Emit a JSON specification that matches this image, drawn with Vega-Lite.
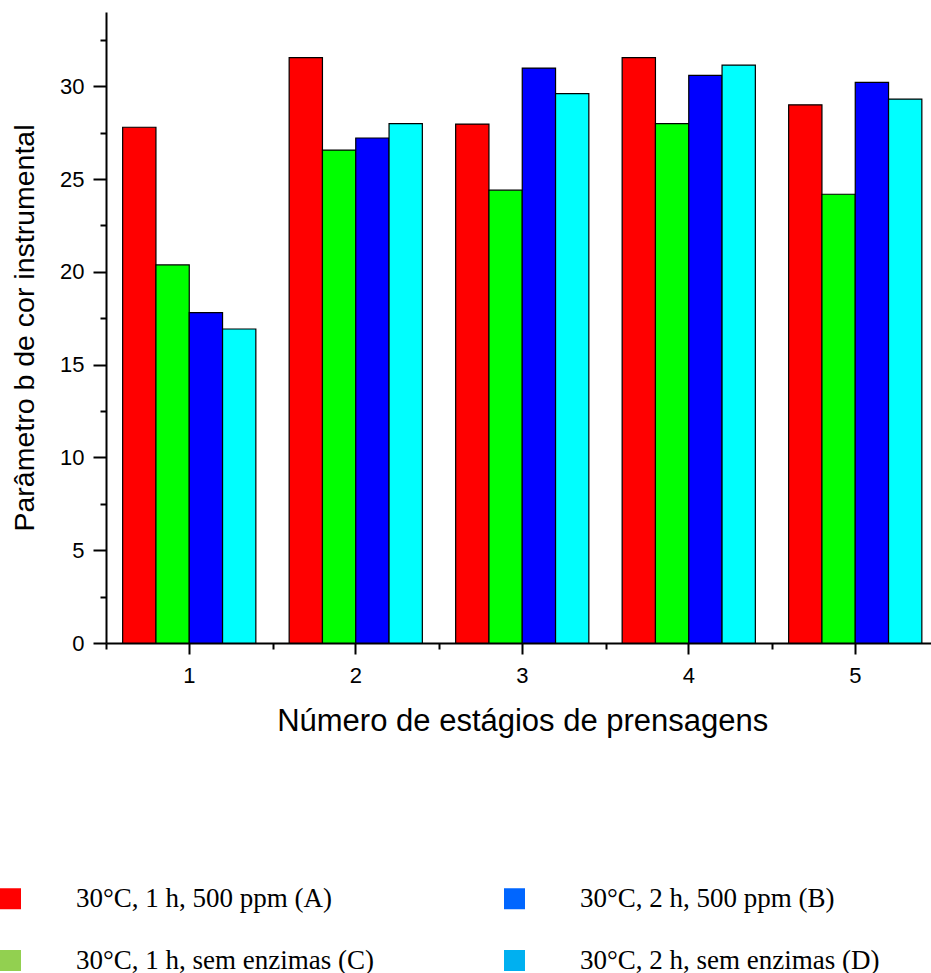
{
  "$schema": "https://vega.github.io/schema/vega-lite/v6.json",
  "autosize": {"type": "none"},
  "padding": {"left": 106, "top": 12, "right": 0, "bottom": 330},
  "width": 825,
  "height": 631,
  "background": "white",
  "config": {
    "view": {"stroke": null},
    "axis": {
      "grid": false,
      "domainColor": "black",
      "tickColor": "black",
      "labelColor": "black",
      "titleColor": "black",
      "labelFont": "Liberation Sans",
      "titleFont": "Liberation Sans",
      "titleFontWeight": "normal",
      "domainWidth": 2,
      "tickWidth": 2
    }
  },
  "data": {
    "values": [
      {"estagio": "1", "trat": "30°C, 1 h, 500 ppm (A)", "b": 27.79},
      {"estagio": "1", "trat": "30°C, 1 h, sem enzimas (C)", "b": 20.37},
      {"estagio": "1", "trat": "30°C, 2 h, 500 ppm (B)", "b": 17.8},
      {"estagio": "1", "trat": "30°C, 2 h, sem enzimas (D)", "b": 16.92},
      {"estagio": "2", "trat": "30°C, 1 h, 500 ppm (A)", "b": 31.54},
      {"estagio": "2", "trat": "30°C, 1 h, sem enzimas (C)", "b": 26.56},
      {"estagio": "2", "trat": "30°C, 2 h, 500 ppm (B)", "b": 27.21},
      {"estagio": "2", "trat": "30°C, 2 h, sem enzimas (D)", "b": 27.98},
      {"estagio": "3", "trat": "30°C, 1 h, 500 ppm (A)", "b": 27.96},
      {"estagio": "3", "trat": "30°C, 1 h, sem enzimas (C)", "b": 24.4},
      {"estagio": "3", "trat": "30°C, 2 h, 500 ppm (B)", "b": 30.98},
      {"estagio": "3", "trat": "30°C, 2 h, sem enzimas (D)", "b": 29.6},
      {"estagio": "4", "trat": "30°C, 1 h, 500 ppm (A)", "b": 31.54},
      {"estagio": "4", "trat": "30°C, 1 h, sem enzimas (C)", "b": 27.98},
      {"estagio": "4", "trat": "30°C, 2 h, 500 ppm (B)", "b": 30.59},
      {"estagio": "4", "trat": "30°C, 2 h, sem enzimas (D)", "b": 31.14},
      {"estagio": "5", "trat": "30°C, 1 h, 500 ppm (A)", "b": 29.0},
      {"estagio": "5", "trat": "30°C, 1 h, sem enzimas (C)", "b": 24.18},
      {"estagio": "5", "trat": "30°C, 2 h, 500 ppm (B)", "b": 30.21},
      {"estagio": "5", "trat": "30°C, 2 h, sem enzimas (D)", "b": 29.31}
    ]
  },
  "encoding": {
    "xOffset": {
      "field": "trat",
      "type": "nominal",
      "scale": {
        "domain": ["30°C, 1 h, 500 ppm (A)", "30°C, 1 h, sem enzimas (C)", "30°C, 2 h, 500 ppm (B)", "30°C, 2 h, sem enzimas (D)"],
        "paddingInner": 0,
        "paddingOuter": 0.5
      }
    },
    "y": {
      "field": "b",
      "type": "quantitative",
      "scale": {"domain": [0, 34], "nice": false, "zero": true},
      "axis": {
        "values": [0, 2.5, 5, 7.5, 10, 12.5, 15, 17.5, 20, 22.5, 25, 27.5, 30, 32.5],
        "tickSize": {"condition": {"test": "datum.value % 5 === 0", "value": 13}, "value": 6},
        "labelExpr": "datum.value % 5 === 0 ? datum.label : ''",
        "labelFontSize": 22,
        "labelPadding": 9,
        "title": "Parâmetro b de cor instrumental",
        "titleFontSize": 28.5,
        "titlePadding": 20
      }
    }
  },
  "layer": [
    {
      "mark": {"type": "bar", "opacity": 0},
      "encoding": {
        "x": {
          "field": "estagio",
          "type": "ordinal",
          "scale": {"range": [0, 832.5], "paddingInner": 0, "paddingOuter": 0},
          "axis": {"orient": "bottom", "tickBand": "extent", "tickSize": 6, "labels": false, "domain": false, "title": null}
        },
        "color": {
          "field": "trat",
          "type": "nominal",
          "scale": {
            "domain": ["30°C, 1 h, 500 ppm (A)", "30°C, 1 h, sem enzimas (C)", "30°C, 2 h, 500 ppm (B)", "30°C, 2 h, sem enzimas (D)"],
            "range": ["#FF0000", "#92D050", "#0066FF", "#00B0F0"]
          },
          "legend": {
            "orient": "none",
            "legendX": -109,
            "legendY": 873,
            "columns": 2,
            "title": null,
            "symbolType": "square",
            "symbolSize": 441,
            "symbolOpacity": 1,
            "symbolStrokeWidth": 0,
            "labelFont": "Liberation Serif",
            "labelFontSize": 27,
            "labelColor": "black",
            "labelOffset": 52,
            "labelLimit": 500,
            "rowPadding": 34,
            "columnPadding": 126,
            "padding": 0
          }
        }
      }
    },
    {
      "mark": {"type": "bar", "stroke": "black", "strokeWidth": 1.2},
      "encoding": {
        "x": {
          "field": "estagio",
          "type": "ordinal",
          "scale": {"range": [0, 832.5], "paddingInner": 0, "paddingOuter": 0},
          "axis": {
            "orient": "bottom",
            "labelAngle": 0,
            "tickSize": 11,
            "labelFontSize": 22,
            "labelPadding": 11,
            "title": "Número de estágios de prensagens",
            "titleFontSize": 31,
            "titlePadding": 20
          }
        },
        "fill": {
          "field": "trat",
          "type": "nominal",
          "scale": {
            "domain": ["30°C, 1 h, 500 ppm (A)", "30°C, 2 h, 500 ppm (B)", "30°C, 1 h, sem enzimas (C)", "30°C, 2 h, sem enzimas (D)"],
            "range": ["#FF0000", "#0000FF", "#00FF00", "#00FFFF"]
          },
          "legend": null
        }
      }
    }
  ],
  "resolve": {"axis": {"x": "independent"}}
}
